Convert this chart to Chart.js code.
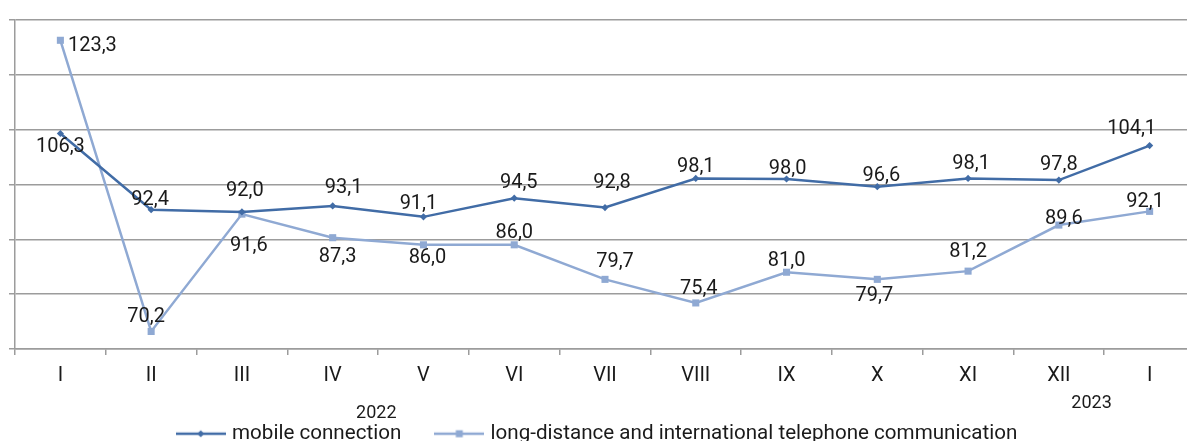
<!DOCTYPE html>
<html>
<head>
<meta charset="utf-8">
<script src="https://cdn.jsdelivr.net/npm/chart.js@4/dist/chart.umd.min.js"></script>
<style>
  html, body { margin: 0; padding: 0; background: #ffffff; overflow: hidden; }
  #wrap { position: relative; width: 1200px; height: 460px; }
</style>
</head>
<body>
<div id="wrap"><canvas id="c" width="1200" height="460"></canvas></div>
<script>
// ---- data ----
const months = ['I', 'II', 'III', 'IV', 'V', 'VI', 'VII', 'VIII', 'IX', 'X', 'XI', 'XII', 'I'];
const mobileValues = [106.3, 92.4, 92.0, 93.1, 91.1, 94.5, 92.8, 98.1, 98.0, 96.6, 98.1, 97.8, 104.1];
const longDistanceValues = [123.3, 70.2, 91.6, 87.3, 86.0, 86.0, 79.7, 75.4, 81.0, 79.7, 81.2, 89.6, 92.1];
const seriesNames = ['mobile connection', 'long-distance and international telephone communication'];
const yearLabels = ['2022', '2023'];

// ---- label placement (offsets of label centre from point, px) ----
const mobileLabelOffsets = [[0, 11.5], [-1, -12], [3, -23], [11, -19.5], [-5, -14.5], [4.5, -17.7], [7, -26.7],
  [0, -13.3], [1, -12.3], [4, -12.5], [3, -17], [0, -17], [-18, -18.7]];
const longLabelOffsets = [[32, 3.7], [-5, -16.5], [7, 29.7], [5, 17.7], [4, 11.5], [0, -14], [10, -19.5],
  [3, -15.7], [0, -13], [-3, 14.7], [0, -21.7], [5, -8.3], [-4.5, -11.3]];
const yearPositions = [[3.48, 411.5], [11.36, 402]]; // category index, y px

const darkBlue = '#416ca6';
const lightBlue = '#8fa9d3';
const gridGray = '#9c9c9c';
const textColor = '#1a1a1a';
const FONT = 'Roboto';

function legendImage(color, style) {
  const cv = document.createElement('canvas');
  cv.width = 50; cv.height = 12;
  const g = cv.getContext('2d');
  g.strokeStyle = color; g.lineWidth = 2.5;
  g.beginPath(); g.moveTo(0, 6); g.lineTo(50, 6); g.stroke();
  g.fillStyle = color;
  if (style === 'diamond') {
    g.beginPath(); g.moveTo(25, 2.5); g.lineTo(28.5, 6); g.lineTo(25, 9.5); g.lineTo(21.5, 6); g.closePath(); g.fill();
  } else {
    g.fillRect(21.5, 2.5, 7, 7);
  }
  return cv;
}
const legendImgs = [legendImage(darkBlue, 'diamond'), legendImage(lightBlue, 'square')];

const fmt = v => v.toFixed(1).replace('.', ',');

const labelPlugin = {
  id: 'valueLabels',
  afterDatasetsDraw(chart) {
    const ctx = chart.ctx;
    ctx.save();
    ctx.font = '20px ' + FONT;
    ctx.fillStyle = textColor;
    ctx.textAlign = 'center';
    ctx.textBaseline = 'alphabetic';
    chart.data.datasets.forEach((ds, di) => {
      const meta = chart.getDatasetMeta(di);
      const offs = ds.labelOffsets;
      meta.data.forEach((pt, i) => {
        const o = offs[i];
        ctx.fillText(fmt(ds.data[i]), pt.x + o[0], pt.y + o[1] + 7.1);
      });
    });
    // year captions
    const xs = chart.scales.x;
    ctx.font = '18px ' + FONT;
    yearLabels.forEach((t, i) => {
      const p = yearPositions[i];
      ctx.fillText(t, xs.getPixelForValue(p[0]), p[1] + 6.4);
    });
    ctx.restore();
  }
};

new Chart(document.getElementById('c'), {
  type: 'line',
  data: {
    labels: months,
    datasets: [
      {
        label: seriesNames[0],
        data: mobileValues,
        borderColor: darkBlue,
        backgroundColor: darkBlue,
        borderWidth: 2.5,
        pointStyle: 'rectRot',
        pointRadius: 3.6,
        pointBorderWidth: 0,
        pointBackgroundColor: darkBlue,
        tension: 0,
        labelOffsets: mobileLabelOffsets,
        order: 1
      },
      {
        label: seriesNames[1],
        data: longDistanceValues,
        borderColor: lightBlue,
        backgroundColor: lightBlue,
        borderWidth: 2.5,
        pointStyle: 'rect',
        pointRadius: 5,
        pointBorderWidth: 0,
        pointBackgroundColor: lightBlue,
        tension: 0,
        labelOffsets: longLabelOffsets,
        order: 2
      }
    ]
  },
  options: {
    responsive: false,
    animation: false,
    devicePixelRatio: 1,
    layout: { padding: { top: 20, right: 3, bottom: 6, left: 0 } },
    plugins: {
      tooltip: { enabled: false },
      legend: {
        position: 'bottom',
        labels: {
          usePointStyle: true,
          pointStyleWidth: 42,
          boxHeight: 12,
          padding: 37,
          color: textColor,
          font: { family: FONT, size: 20.6 },
          generateLabels: (chart) => chart.data.datasets.map((ds, i) => ({
            text: ds.label,
            pointStyle: legendImgs[i],
            fillStyle: ds.borderColor,
            strokeStyle: ds.borderColor,
            lineWidth: 0,
            hidden: false,
            datasetIndex: i,
            fontColor: textColor
          }))
        }
      }
    },
    scales: {
      x: {
        type: 'category',
        offset: true,
        grid: { offset: true, drawOnChartArea: false, drawTicks: true, tickLength: 6, color: gridGray, lineWidth: 1.5 },
        border: { display: true, color: gridGray, width: 1.5 },
        ticks: { color: textColor, font: { family: FONT, size: 20 }, padding: 9, maxRotation: 0, autoSkip: false },
        afterFit: (s) => { s.height = 37.4; }
      },
      y: {
        type: 'linear',
        min: 67,
        max: 127,
        ticks: { display: false, stepSize: 10 },
        grid: { color: gridGray, lineWidth: 1.5, drawTicks: true, tickLength: 6 },
        border: { display: true, color: gridGray, width: 1.5 },
        afterFit: (s) => { s.width = 15; }
      }
    }
  },
  plugins: [labelPlugin]
});
</script>
</body>
</html>
